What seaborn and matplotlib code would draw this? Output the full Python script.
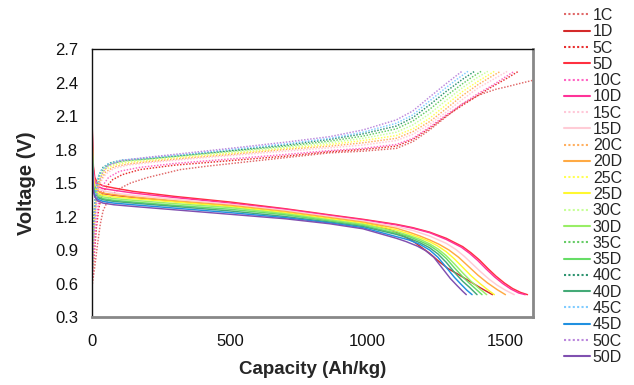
import matplotlib
matplotlib.use("Agg")
import matplotlib.pyplot as plt
from matplotlib.lines import Line2D
import seaborn as sns
import pandas as pd

# ---------------- data ----------------
series_names = ["1C", "1D", "5C", "5D", "10C", "10D", "15C", "15D", "20C", "20D",
                "25C", "25D", "30C", "30D", "35C", "35D", "40C", "40D", "45C", "45D",
                "50C", "50D"]

# charge curves (dotted)
cap_1C = [0, 10, 20, 30, 40, 55, 70, 100, 140, 203, 320, 415, 600, 750, 862, 983, 1104, 1164, 1225, 1285, 1345, 1406, 1466, 1502, 1550, 1600]
v_1C = [0.57, 0.75, 0.95, 1.13, 1.25, 1.33, 1.39, 1.45, 1.50, 1.55, 1.62, 1.65, 1.70, 1.74, 1.77, 1.785, 1.81, 1.87, 1.975, 2.094, 2.21, 2.29, 2.34, 2.36, 2.39, 2.42]

cap_5C = [0, 8, 16, 25, 35, 50, 75, 110, 174, 300, 500, 700, 862, 983, 1104, 1164, 1225, 1285, 1340, 1369, 1410, 1450, 1500, 1547]
v_5C = [0.60, 0.85, 1.10, 1.28, 1.38, 1.46, 1.53, 1.575, 1.62, 1.66, 1.70, 1.74, 1.78, 1.80, 1.83, 1.89, 1.99, 2.10, 2.19, 2.235, 2.30, 2.36, 2.43, 2.50]

cap_10C = [0, 8, 15, 25, 40, 60, 100, 174, 300, 500, 700, 862, 983, 1104, 1164, 1225, 1285, 1345, 1400, 1450, 1500, 1532]
v_10C = [0.60, 0.90, 1.15, 1.35, 1.48, 1.55, 1.605, 1.64, 1.675, 1.715, 1.755, 1.79, 1.81, 1.845, 1.90, 2.00, 2.11, 2.21, 2.30, 2.37, 2.45, 2.50]

cap_15C = [0, 6, 12, 20, 32, 50, 80, 130, 200, 350, 500, 700, 862, 983, 1104, 1164, 1225, 1285, 1345, 1400, 1450, 1507]
v_15C = [0.62, 0.95, 1.22, 1.40, 1.51, 1.58, 1.63, 1.66, 1.68, 1.715, 1.745, 1.785, 1.815, 1.84, 1.88, 1.935, 2.025, 2.135, 2.25, 2.35, 2.42, 2.50]

cap_20C = [0, 6, 12, 20, 32, 50, 80, 130, 200, 350, 500, 700, 862, 983, 1104, 1164, 1225, 1285, 1345, 1400, 1440, 1482]
v_20C = [0.62, 1.00, 1.27, 1.43, 1.53, 1.60, 1.645, 1.67, 1.69, 1.725, 1.755, 1.80, 1.83, 1.86, 1.90, 1.96, 2.05, 2.165, 2.285, 2.38, 2.44, 2.50]

cap_25C = [0, 5, 11, 18, 30, 48, 80, 130, 200, 350, 500, 700, 862, 983, 1104, 1164, 1225, 1285, 1345, 1400, 1460]
v_25C = [0.62, 1.00, 1.28, 1.44, 1.55, 1.62, 1.66, 1.685, 1.70, 1.735, 1.765, 1.81, 1.845, 1.88, 1.925, 1.985, 2.08, 2.20, 2.32, 2.41, 2.50]

cap_30C = [0, 5, 10, 17, 28, 45, 75, 130, 200, 350, 500, 700, 862, 983, 1104, 1164, 1225, 1285, 1345, 1395, 1436]
v_30C = [0.63, 1.02, 1.28, 1.45, 1.56, 1.63, 1.67, 1.695, 1.71, 1.745, 1.775, 1.82, 1.86, 1.90, 1.955, 2.02, 2.12, 2.24, 2.355, 2.44, 2.50]

cap_35C = [0, 5, 10, 16, 26, 42, 70, 120, 200, 350, 500, 700, 862, 983, 1104, 1164, 1225, 1285, 1345, 1380, 1412]
v_35C = [0.63, 1.04, 1.30, 1.45, 1.57, 1.635, 1.675, 1.70, 1.715, 1.75, 1.785, 1.83, 1.875, 1.92, 1.985, 2.055, 2.16, 2.28, 2.39, 2.45, 2.50]

cap_40C = [0, 5, 10, 15, 25, 40, 65, 110, 200, 350, 500, 700, 862, 983, 1104, 1164, 1225, 1285, 1345, 1388]
v_40C = [0.63, 1.05, 1.32, 1.46, 1.57, 1.64, 1.68, 1.705, 1.72, 1.755, 1.79, 1.84, 1.89, 1.94, 2.01, 2.085, 2.20, 2.32, 2.43, 2.50]

cap_45C = [0, 5, 10, 15, 22, 35, 58, 106, 200, 350, 500, 700, 862, 983, 1104, 1164, 1225, 1285, 1330, 1364]
v_45C = [0.63, 1.00, 1.28, 1.44, 1.55, 1.62, 1.67, 1.705, 1.725, 1.76, 1.80, 1.85, 1.90, 1.955, 2.035, 2.11, 2.235, 2.355, 2.44, 2.50]

cap_50C = [0, 5, 10, 15, 22, 30, 40, 58, 106, 200, 350, 500, 700, 862, 983, 1104, 1164, 1225, 1285, 1342]
v_50C = [0.63, 0.90, 1.15, 1.33, 1.46, 1.54, 1.60, 1.655, 1.70, 1.73, 1.77, 1.81, 1.865, 1.915, 1.975, 2.065, 2.145, 2.27, 2.39, 2.50]

# discharge curves (solid)
cap_1D = [0, 2, 5, 10, 20, 40, 80, 150, 300, 500, 700, 862, 983, 1060, 1104, 1164, 1225, 1260, 1291, 1330, 1370, 1410, 1453]
v_1D = [2.12, 1.84, 1.60, 1.48, 1.43, 1.405, 1.39, 1.37, 1.335, 1.295, 1.24, 1.185, 1.145, 1.10, 1.06, 0.98, 0.87, 0.795, 0.735, 0.68, 0.62, 0.56, 0.50]

cap_5D = [0, 2, 5, 10, 20, 40, 80, 150, 300, 500, 700, 862, 983, 1104, 1164, 1225, 1285, 1345, 1375, 1406, 1436, 1466, 1496, 1526, 1555, 1580]
v_5D = [2.10, 1.85, 1.65, 1.55, 1.50, 1.475, 1.455, 1.425, 1.38, 1.33, 1.27, 1.215, 1.175, 1.13, 1.10, 1.06, 1.005, 0.93, 0.875, 0.81, 0.735, 0.665, 0.605, 0.555, 0.52, 0.50]

cap_10D = [0, 2, 5, 10, 20, 40, 80, 150, 300, 500, 700, 862, 983, 1104, 1164, 1225, 1285, 1340, 1370, 1400, 1430, 1460, 1490, 1520, 1548, 1572]
v_10D = [2.05, 1.82, 1.62, 1.52, 1.47, 1.45, 1.435, 1.41, 1.37, 1.32, 1.265, 1.21, 1.17, 1.125, 1.095, 1.055, 0.995, 0.925, 0.87, 0.805, 0.73, 0.66, 0.60, 0.55, 0.515, 0.50]

cap_15D = [0, 2, 5, 10, 20, 40, 80, 150, 300, 500, 700, 862, 983, 1104, 1164, 1225, 1285, 1320, 1350, 1380, 1410, 1440, 1470, 1500, 1532]
v_15D = [2.00, 1.78, 1.58, 1.49, 1.45, 1.43, 1.41, 1.39, 1.355, 1.31, 1.255, 1.20, 1.16, 1.11, 1.075, 1.025, 0.96, 0.905, 0.845, 0.775, 0.705, 0.64, 0.585, 0.54, 0.50]

cap_20D = [0, 2, 5, 10, 20, 40, 80, 150, 300, 500, 700, 862, 983, 1104, 1150, 1190, 1225, 1260, 1295, 1330, 1365, 1400, 1435, 1470, 1500]
v_20D = [1.98, 1.75, 1.55, 1.47, 1.43, 1.41, 1.395, 1.375, 1.34, 1.30, 1.245, 1.19, 1.15, 1.095, 1.06, 1.025, 0.99, 0.95, 0.90, 0.835, 0.755, 0.675, 0.605, 0.545, 0.50]

cap_25D = [0, 2, 5, 10, 20, 40, 80, 150, 300, 500, 700, 862, 983, 1104, 1150, 1190, 1225, 1255, 1285, 1315, 1345, 1375, 1405, 1435, 1460]
v_25D = [1.96, 1.72, 1.52, 1.45, 1.41, 1.39, 1.375, 1.36, 1.33, 1.29, 1.235, 1.18, 1.14, 1.08, 1.045, 1.01, 0.975, 0.935, 0.885, 0.82, 0.745, 0.67, 0.605, 0.545, 0.50]

cap_30D = [0, 2, 5, 10, 20, 40, 80, 150, 300, 500, 700, 862, 983, 1104, 1150, 1190, 1225, 1255, 1285, 1315, 1345, 1375, 1405, 1432]
v_30D = [1.94, 1.70, 1.50, 1.43, 1.395, 1.375, 1.36, 1.345, 1.315, 1.28, 1.225, 1.17, 1.13, 1.065, 1.03, 0.995, 0.955, 0.91, 0.85, 0.775, 0.695, 0.62, 0.555, 0.50]

cap_35D = [0, 2, 5, 10, 20, 40, 80, 150, 300, 500, 700, 862, 983, 1104, 1150, 1190, 1225, 1255, 1285, 1315, 1345, 1370, 1395, 1415]
v_35D = [1.92, 1.68, 1.48, 1.415, 1.38, 1.36, 1.345, 1.33, 1.30, 1.265, 1.215, 1.16, 1.12, 1.05, 1.02, 0.98, 0.94, 0.89, 0.825, 0.74, 0.66, 0.60, 0.545, 0.50]

cap_40D = [0, 2, 5, 10, 20, 40, 80, 150, 300, 500, 700, 862, 983, 1104, 1150, 1190, 1225, 1255, 1285, 1315, 1345, 1370, 1397]
v_40D = [1.90, 1.65, 1.46, 1.40, 1.37, 1.35, 1.335, 1.32, 1.29, 1.25, 1.20, 1.15, 1.11, 1.04, 1.005, 0.965, 0.92, 0.865, 0.79, 0.70, 0.62, 0.565, 0.50]

cap_45D = [0, 2, 5, 10, 20, 40, 80, 150, 300, 500, 700, 862, 983, 1104, 1150, 1190, 1225, 1255, 1285, 1315, 1340, 1360, 1379]
v_45D = [1.88, 1.62, 1.44, 1.39, 1.355, 1.335, 1.32, 1.305, 1.275, 1.235, 1.19, 1.143, 1.10, 1.02, 0.99, 0.95, 0.90, 0.835, 0.745, 0.655, 0.59, 0.54, 0.50]

cap_50D = [0, 2, 5, 10, 20, 40, 80, 150, 300, 500, 700, 862, 983, 1104, 1140, 1180, 1210, 1240, 1270, 1300, 1325, 1345, 1358]
v_50D = [1.86, 1.60, 1.43, 1.375, 1.34, 1.32, 1.305, 1.29, 1.26, 1.22, 1.18, 1.135, 1.09, 1.005, 0.975, 0.935, 0.895, 0.835, 0.74, 0.645, 0.58, 0.53, 0.50]

series_data = {
    "1C": (cap_1C, v_1C), "1D": (cap_1D, v_1D), "5C": (cap_5C, v_5C), "5D": (cap_5D, v_5D),
    "10C": (cap_10C, v_10C), "10D": (cap_10D, v_10D), "15C": (cap_15C, v_15C), "15D": (cap_15D, v_15D),
    "20C": (cap_20C, v_20C), "20D": (cap_20D, v_20D), "25C": (cap_25C, v_25C), "25D": (cap_25D, v_25D),
    "30C": (cap_30C, v_30C), "30D": (cap_30D, v_30D), "35C": (cap_35C, v_35C), "35D": (cap_35D, v_35D),
    "40C": (cap_40C, v_40C), "40D": (cap_40D, v_40D), "45C": (cap_45C, v_45C), "45D": (cap_45D, v_45D),
    "50C": (cap_50C, v_50C), "50D": (cap_50D, v_50D),
}

series_colors = {
    "1C": "#E06868", "1D": "#D42A2A", "5C": "#E83030", "5D": "#FF3040",
    "10C": "#FF66C4", "10D": "#FF3399", "15C": "#FFC8D8", "15D": "#FFCCD6",
    "20C": "#FFB060", "20D": "#FFAA44", "25C": "#FFFF55", "25D": "#FFF830",
    "30C": "#C8FF99", "30D": "#99EE66", "35C": "#66CC66", "35D": "#66DD66",
    "40C": "#2E9470", "40D": "#44AA77", "45C": "#80CCFF", "45D": "#2090E0",
    "50C": "#BB88DD", "50D": "#8050B0",
}

y_ticks = [0.3, 0.6, 0.9, 1.2, 1.5, 1.8, 2.1, 2.4, 2.7]
x_ticks = [0, 500, 1000, 1500]

# ---------------- build long table ----------------
rows = []
for name in series_names:
    caps, vs = series_data[name]
    for c, v in zip(caps, vs):
        rows.append({"Capacity": c, "Voltage": v, "series": name})
df = pd.DataFrame(rows)

dash_map = {n: ((1, 1.1) if n.endswith("C") else "") for n in series_names}

# ---------------- plot ----------------
sns.set_theme(style="white")
plt.rcParams["font.family"] = ["Liberation Sans", "DejaVu Sans"]

fig = plt.figure(figsize=(6.34, 3.85), dpi=100)
ax = fig.add_axes([92 / 634, 1 - 317 / 385, (533 - 92) / 634, (317 - 49) / 385])

sns.lineplot(data=df, x="Capacity", y="Voltage", hue="series", style="series",
             hue_order=series_names, style_order=series_names,
             palette=series_colors, dashes=dash_map, sort=False, estimator=None,
             linewidth=1.05, legend=False, ax=ax)

ax.set_xlim(0, 1600)
ax.set_ylim(0.3, 2.7)
ax.set_xticks(x_ticks)
ax.set_yticks(y_ticks)
ax.set_xticklabels([str(t) for t in x_ticks])
ax.set_yticklabels([f"{t:.1f}" for t in y_ticks])
ax.tick_params(axis="both", length=0, labelsize=12, colors="#111111")
ax.tick_params(axis="y", pad=10)
ax.tick_params(axis="x", pad=12)

ax.set_xlabel("Capacity (Ah/kg)", fontsize=13.5, fontweight="bold", labelpad=9)
ax.set_ylabel("Voltage (V)", fontsize=14.5, fontweight="bold", labelpad=14)

for side in ["left", "top"]:
    ax.spines[side].set_color("#111111")
    ax.spines[side].set_linewidth(1.0)
for side in ["right", "bottom"]:
    ax.spines[side].set_color("#888888")
    ax.spines[side].set_linewidth(2.0)
ax.grid(False)

handles = [Line2D([], [], color=series_colors[n], linewidth=1.5,
                  linestyle=(0, (1, 1.1)) if n.endswith("C") else "-")
           for n in series_names]
fig.legend(handles, series_names, loc="upper left", bbox_to_anchor=(564 / 634, 1 - 8 / 385),
           frameon=False, fontsize=11.5, handlelength=1.6, handletextpad=0.2,
           labelspacing=0.08, borderpad=0, borderaxespad=0)

fig.savefig("out.png", dpi=100)
